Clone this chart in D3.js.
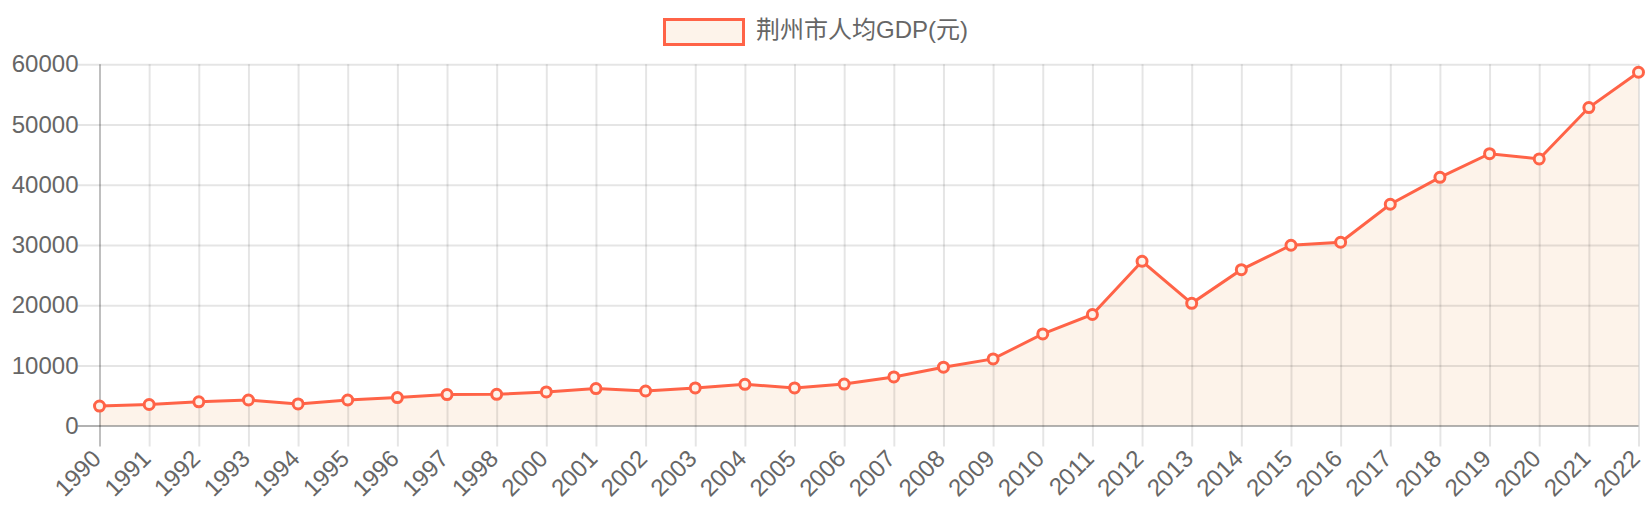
<!DOCTYPE html>
<html>
<head>
<meta charset="utf-8">
<script src="https://cdn.jsdelivr.net/npm/d3@7"></script>
<style>
  html, body { margin: 0; padding: 0; background: #fff; }
  svg text { font-family: "Liberation Sans", Arial, "Noto Sans CJK SC", sans-serif; fill: #666; }
</style>
</head>
<body>
<svg id="chart" width="1652" height="520"></svg>
<script>
const years = ["1990","1991","1992","1993","1994","1995","1996","1997","1998","2000",
  "2001","2002","2003","2004","2005","2006","2007","2008","2009","2010","2011",
  "2012","2013","2014","2015","2016","2017","2018","2019","2020","2021","2022"];
const gdpPerCapita = [3250, 3500, 3950, 4250, 3600, 4250, 4650, 5150, 5200, 5600,
  6150, 5750, 6250, 6850, 6250, 6900, 8080, 9700, 11080, 15230, 18450,
  27290, 20300, 25900, 29950, 30450, 36760, 41230, 45160, 44280, 52820, 58680];
const yTicks = [0, 10000, 20000, 30000, 40000, 50000, 60000];
const seriesName = "荆州市人均GDP(元)";

const lineColor = "rgb(255,99,71)";
const fillColor = "#fdf3ea";

const svg = d3.select("#chart");
const pL = 99.5, pR = 1638.5, pT = 64.3, pB = 425.6;

const x = d3.scalePoint().domain(years).range([pL, pR]);
const y = d3.scaleLinear().domain([0, 60000]).range([pB, pT]);

// area fill
const area = d3.area().x((d, i) => x(years[i])).y0(y(0)).y1(d => y(d));
svg.append("path").datum(gdpPerCapita).attr("d", area).attr("fill", fillColor);

// horizontal gridlines
const yAxis = d3.axisLeft(y).tickValues(yTicks).tickSize(0).tickFormat(d3.format("d"));
const gy = svg.append("g").attr("transform", `translate(${pR},0)`).call(yAxis);
gy.select(".domain").remove();
gy.selectAll(".tick line").attr("stroke", d => d === 0 ? "rgba(0,0,0,0.3)" : "rgba(0,0,0,0.1)").attr("stroke-width", 2).attr("x1", 0).attr("x2", -(pR - pL) - 22);
gy.selectAll(".tick text").attr("x", -(pR - pL) - 21).attr("font-size", 24).attr("fill", "#666");

// vertical gridlines
const xAxis = d3.axisBottom(x).tickSize(0);
const gx = svg.append("g").attr("transform", `translate(0,${pB})`).call(xAxis);
gx.select(".domain").remove();
gx.selectAll(".tick line").attr("stroke", (d, i) => i === 0 ? "rgba(0,0,0,0.25)" : "rgba(0,0,0,0.1)").attr("stroke-width", 2)
  .attr("y1", pT - pB).attr("y2", 21);
gx.selectAll(".tick text")
  .attr("font-size", 24).attr("fill", "#666")
  .attr("text-anchor", "end").attr("dy", null).attr("y", null)
  .attr("dominant-baseline", "middle")
  .attr("transform", `translate(-2,30) rotate(-45)`);

// line
const line = d3.line().x((d, i) => x(years[i])).y(d => y(d));
svg.append("path").datum(gdpPerCapita).attr("d", line)
  .attr("fill", "none").attr("stroke", lineColor).attr("stroke-width", 3);

// points
svg.append("g").selectAll("circle").data(gdpPerCapita).join("circle")
  .attr("cx", (d, i) => x(years[i])).attr("cy", d => y(d)).attr("r", 5)
  .attr("fill", fillColor).attr("stroke", lineColor).attr("stroke-width", 3);

// legend
const lg = svg.append("g");
lg.append("rect").attr("x", 664.5).attr("y", 19.5).attr("width", 79).attr("height", 25)
  .attr("fill", fillColor).attr("stroke", lineColor).attr("stroke-width", 3);
lg.append("text").attr("x", 756).attr("y", 32).attr("dominant-baseline", "middle")
  .attr("font-size", 24).attr("fill", "#666").text(seriesName);
</script>
</body>
</html>
